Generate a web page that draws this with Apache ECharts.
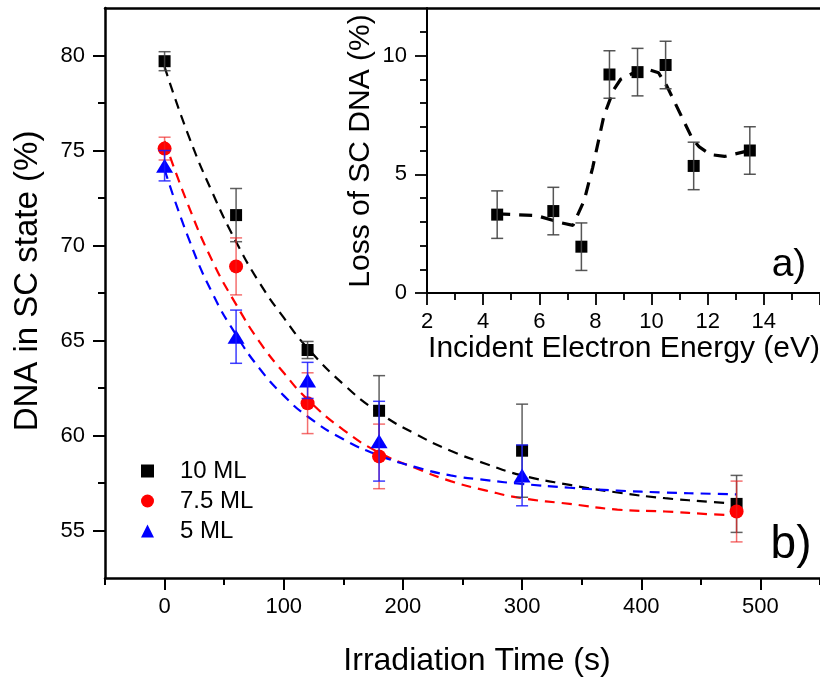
<!DOCTYPE html>
<html>
<head>
<meta charset="utf-8">
<script src="https://cdn.jsdelivr.net/npm/echarts@6/dist/echarts.min.js"></script>
<style>
html,body{margin:0;padding:0;background:#fff;}
#chart{width:820px;height:680px;}
</style>
</head>
<body>
<div id="chart"></div>
<script>
// ---- Main panel (b): DNA in SC state vs irradiation time ----
const timeS     = [0, 60, 120, 180, 300, 480];
const ml10      = [79.7, 71.6, 64.5, 61.3, 59.2, 56.4];
const ml10Err   = [0.5, 1.4, 0.45, 1.85, 2.45, 1.5];
const time75    = [0, 60, 120, 180, 480];
const ml75      = [75.1, 68.9, 61.7, 58.9, 56.0];
const ml75Err   = [0.6, 1.5, 1.6, 1.7, 1.6];
const time5     = [0, 60, 120, 180, 300];
const ml5       = [74.2, 65.2, 62.9, 59.7, 57.9];
const ml5Err    = [0.8, 1.4, 0.95, 2.1, 1.6];
// exponential fit curves
const fitTime   = [0, 20, 40, 60, 80, 100, 120, 150, 180, 210, 240, 270, 300, 340, 380, 420, 460, 480];
const fit10     = [79.4, 75.8, 72.8, 70.2, 68.0, 66.2, 64.6, 62.7, 61.2, 60.1, 59.2, 58.5, 57.9, 57.4, 57.0, 56.7, 56.5, 56.4];
const fit75     = [75.5, 72.1, 69.2, 66.9, 64.9, 63.3, 61.9, 60.3, 59.1, 58.3, 57.6, 57.1, 56.7, 56.4, 56.1, 56.0, 55.85, 55.8];
const fit5      = [74.0, 70.4, 67.5, 65.3, 63.5, 62.1, 61.0, 59.8, 58.95, 58.35, 57.9, 57.65, 57.45, 57.25, 57.1, 57.0, 56.93, 56.9];
const mainXTicks = [0, 100, 200, 300, 400, 500];
const mainXMinor = [-50, 50, 150, 250, 350, 450, 550];
const mainYTicks = [55, 60, 65, 70, 75, 80];
const mainYMinor = [57.5, 62.5, 67.5, 72.5, 77.5];
const seriesNames = ['10 ML', '7.5 ML', '5 ML'];

// ---- Inset (a): loss of SC DNA vs incident electron energy ----
const energy    = [4.5, 6.5, 7.5, 8.5, 9.5, 10.5, 11.5, 13.5];
const loss      = [3.3, 3.45, 1.95, 9.2, 9.3, 9.6, 5.35, 6.0];
const lossErr   = [1.0, 1.0, 1.0, 1.0, 1.0, 1.0, 1.0, 1.0];
const trendE    = [4.5, 5.9, 6.8, 7.2, 7.6, 7.9, 8.3, 8.65, 8.9, 9.5, 9.85, 10.25, 10.55, 11.45, 11.7, 12.1, 12.6, 13.5];
const trendL    = [3.33, 3.26, 2.95, 2.85, 3.9, 5.27, 7.45, 8.56, 9.0, 9.35, 9.42, 9.27, 8.7, 6.5, 6.15, 5.83, 5.75, 6.0];
const insetXTicks = [2, 4, 6, 8, 10, 12, 14, 16];
const insetXMinor = [3, 5, 7, 9, 11, 13, 15];
const insetYTicks = [0, 5, 10];
const insetYMinor = [1, 2, 3, 4, 6, 7, 8, 9, 11];

const FONT = "'Liberation Sans', Arial, Helvetica, sans-serif";
const chart = echarts.init(document.getElementById('chart'), null, {renderer: 'canvas'});

function zip(xs, ys) { return xs.map((x, i) => [x, ys[i]]); }

function errSeries(xs, ys, es, color, opacity, xi, yi, z) {
  return {
    type: 'custom', xAxisIndex: xi, yAxisIndex: yi, z: z, silent: true,
    data: xs.map((x, i) => [x, ys[i] - es[i], ys[i] + es[i]]),
    encode: {x: 0, y: [1, 2]},
    renderItem: function (params, api) {
      const x = api.value(0);
      const lo = api.coord([x, api.value(1)]);
      const hi = api.coord([x, api.value(2)]);
      const h = 6;
      const st = {stroke: color, lineWidth: 1.5, opacity: opacity};
      return {type: 'group', children: [
        {type: 'line', shape: {x1: lo[0], y1: lo[1], x2: hi[0], y2: hi[1]}, style: st},
        {type: 'line', shape: {x1: hi[0] - h, y1: hi[1], x2: hi[0] + h, y2: hi[1]}, style: st},
        {type: 'line', shape: {x1: lo[0] - h, y1: lo[1], x2: lo[0] + h, y2: lo[1]}, style: st}
      ]};
    }
  };
}

function fitSeries(ys, color) {
  return {
    type: 'line', xAxisIndex: 0, yAxisIndex: 0, z: 2, silent: true,
    data: zip(fitTime, ys), smooth: true, showSymbol: false, symbol: 'none',
    lineStyle: {color: color, width: 2.2, type: [10, 7]}
  };
}

const tickLabel = {color: '#000', fontSize: 22, fontFamily: FONT};

const option = {
  animation: false,
  backgroundColor: '#fff',
  grid: [
    {left: 105, top: 8, width: 717, height: 570},
    {left: 427, top: 8, width: 395, height: 285}
  ],
  xAxis: [
    {gridIndex: 0, type: 'value', min: -50, max: 550, position: 'bottom',
     axisLine: {show: true, onZero: false, lineStyle: {color: '#000', width: 2.5}},
     axisTick: {show: true, customValues: mainXTicks, length: 12, lineStyle: {color: '#000', width: 2}},
     axisLabel: Object.assign({customValues: mainXTicks, margin: 18}, tickLabel),
     splitLine: {show: false}},
    {gridIndex: 0, type: 'value', min: -50, max: 550, position: 'bottom', offset: 0,
     axisLine: {show: false, onZero: false},
     axisTick: {show: true, customValues: mainXMinor, length: 7, lineStyle: {color: '#000', width: 2}},
     axisLabel: {show: false}, splitLine: {show: false}},
    {gridIndex: 0, type: 'value', min: -50, max: 550, position: 'top',
     axisLine: {show: true, onZero: false, lineStyle: {color: '#000', width: 2.5}},
     axisTick: {show: false}, axisLabel: {show: false}, splitLine: {show: false}},
    {gridIndex: 1, type: 'value', min: 2, max: 16, position: 'bottom',
     axisLine: {show: true, onZero: false, lineStyle: {color: '#000', width: 2}},
     axisTick: {show: true, customValues: insetXTicks, length: 12, lineStyle: {color: '#000', width: 1.8}},
     axisLabel: Object.assign({customValues: insetXTicks.slice(0, 7), margin: 18}, tickLabel),
     splitLine: {show: false}},
    {gridIndex: 1, type: 'value', min: 2, max: 16, position: 'bottom', offset: 0,
     axisLine: {show: false, onZero: false},
     axisTick: {show: true, customValues: insetXMinor, length: 7, lineStyle: {color: '#000', width: 1.8}},
     axisLabel: {show: false}, splitLine: {show: false}}
  ],
  yAxis: [
    {gridIndex: 0, type: 'value', min: 52.5, max: 82.5, position: 'left',
     axisLine: {show: true, onZero: false, lineStyle: {color: '#000', width: 2.5}},
     axisTick: {show: true, customValues: mainYTicks, length: 12, lineStyle: {color: '#000', width: 2}},
     axisLabel: Object.assign({customValues: mainYTicks, margin: 20}, tickLabel),
     splitLine: {show: false}},
    {gridIndex: 0, type: 'value', min: 52.5, max: 82.5, position: 'left', offset: 0,
     axisLine: {show: false, onZero: false},
     axisTick: {show: true, customValues: mainYMinor, length: 7, lineStyle: {color: '#000', width: 2}},
     axisLabel: {show: false}, splitLine: {show: false}},
    {gridIndex: 1, type: 'value', min: 0, max: 12, position: 'left',
     axisLine: {show: true, onZero: false, lineStyle: {color: '#000', width: 2}},
     axisTick: {show: true, customValues: insetYTicks, length: 12, lineStyle: {color: '#000', width: 1.8}},
     axisLabel: Object.assign({customValues: insetYTicks, margin: 20}, tickLabel),
     splitLine: {show: false}},
    {gridIndex: 1, type: 'value', min: 0, max: 12, position: 'left', offset: 0,
     axisLine: {show: false, onZero: false},
     axisTick: {show: true, customValues: insetYMinor, length: 7, lineStyle: {color: '#000', width: 1.8}},
     axisLabel: {show: false}, splitLine: {show: false}}
  ],
  legend: {
    data: seriesNames, orient: 'vertical', left: 136, top: 454,
    itemWidth: 13, itemHeight: 13, itemGap: 6, selectedMode: false,
    textStyle: {fontSize: 24, fontFamily: FONT, color: '#000', lineHeight: 24, padding: [0, 0, 0, 21]}
  },
  series: [
    fitSeries(fit10, '#000000'),
    fitSeries(fit75, '#ff0000'),
    fitSeries(fit5, '#0000ff'),
    {name: seriesNames[0], type: 'scatter', xAxisIndex: 0, yAxisIndex: 0, z: 3,
     data: zip(timeS, ml10), symbol: 'rect', symbolSize: 12, itemStyle: {color: '#000', opacity: 1}},
    errSeries(timeS, ml10, ml10Err, '#444', 0.85, 0, 0, 4),
    {name: seriesNames[1], type: 'scatter', xAxisIndex: 0, yAxisIndex: 0, z: 5,
     data: zip(time75, ml75), symbol: 'circle', symbolSize: 14, itemStyle: {color: '#ff0000', opacity: 1}},
    errSeries(time75, ml75, ml75Err, '#ee2222', 0.65, 0, 0, 6),
    {name: seriesNames[2], type: 'scatter', xAxisIndex: 0, yAxisIndex: 0, z: 7,
     data: zip(time5, ml5), symbol: 'triangle', symbolSize: [17, 14], itemStyle: {color: '#0000ff', opacity: 1}},
    errSeries(time5, ml5, ml5Err, '#1a1aff', 0.85, 0, 0, 8),
    // inset
    {type: 'line', xAxisIndex: 3, yAxisIndex: 2, z: 2, silent: true,
     data: zip(trendE, trendL), smooth: false, showSymbol: false, symbol: 'none',
     lineStyle: {color: '#000', width: 3.2, type: [13, 9]}},
    {type: 'scatter', xAxisIndex: 3, yAxisIndex: 2, z: 3,
     data: zip(energy, loss), symbol: 'rect', symbolSize: 12, itemStyle: {color: '#000', opacity: 1}},
    errSeries(energy, loss, lossErr, '#444', 0.9, 3, 2, 4)
  ],
  graphic: [
    {type: 'text', x: 28, y: 281, rotation: Math.PI / 2,
     style: {text: 'DNA in SC state (%)', font: '33px ' + FONT, fill: '#000', textAlign: 'center', textVerticalAlign: 'middle'}},
    {type: 'text', x: 477, y: 661,
     style: {text: 'Irradiation Time (s)', font: '32px ' + FONT, fill: '#000', textAlign: 'center', textVerticalAlign: 'middle'}},
    {type: 'text', x: 361, y: 151, rotation: Math.PI / 2,
     style: {text: 'Loss of SC DNA (%)', font: '30px ' + FONT, fill: '#000', textAlign: 'center', textVerticalAlign: 'middle'}},
    {type: 'text', x: 624, y: 349,
     style: {text: 'Incident Electron Energy (eV)', font: '30px ' + FONT, fill: '#000', textAlign: 'center', textVerticalAlign: 'middle'}},
    {type: 'text', x: 789, y: 265,
     style: {text: 'a)', font: '39px ' + FONT, fill: '#000', textAlign: 'center', textVerticalAlign: 'middle'}},
    {type: 'text', x: 791, y: 545,
     style: {text: 'b)', font: '46px ' + FONT, fill: '#000', textAlign: 'center', textVerticalAlign: 'middle'}}
  ]
};
chart.setOption(option);
</script>
</body>
</html>
